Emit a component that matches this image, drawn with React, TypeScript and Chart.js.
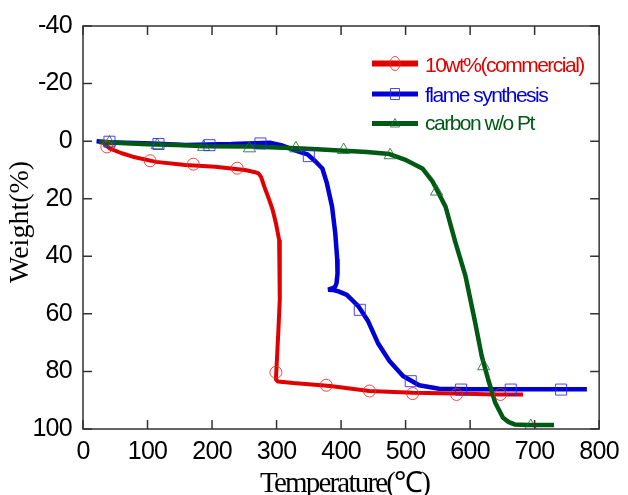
import React, { useEffect, useRef } from "react";
import { Chart, registerables } from "chart.js";

Chart.register(...registerables);

// ---- axis ticks ----
const xTickValues = [0, 100, 200, 300, 400, 500, 600, 700, 800];
const yTickValues = [-40, -20, 0, 20, 40, 60, 80, 100];

// ---- series meta ----
const seriesNames = ["10wt%(commercial)", "flame synthesis", "carbon w/o Pt"];
const seriesColors = ["#e00000", "#0000d6", "#005a14"];
const markerColors = ["rgba(235,40,40,0.85)", "rgba(40,40,235,0.85)", "rgba(30,110,50,0.85)"];
const markerStyles = ["circle", "rect", "triangle"];

const xTitle = "Temperature(℃)";
const yTitle = "Weight(%)";

// ---- curves (temperature °C, weight loss %) ----
const redTemp = [30, 41, 60, 77, 113, 159, 205, 251, 265, 272, 276, 281, 288, 294, 299, 304, 305, 305, 303, 301, 299, 302, 326, 383, 444, 511, 577, 638, 682];
const redWeight = [0.2, 2.5, 4.2, 5.4, 7.2, 8.3, 8.9, 10, 10.7, 11.2, 12.4, 15.8, 20, 23.9, 28.5, 34.3, 45, 55, 65, 74, 82.8, 83.5, 84, 85.1, 86.8, 87.4, 87.7, 88, 88];

const blueTemp = [21, 40, 107, 159, 230, 291, 307, 332, 348, 360, 371, 378, 386, 391, 394, 394.5, 393, 391, 388, 380, 388, 396, 409, 414, 427, 442, 457, 475, 496, 521, 552, 600, 700, 781];
const blueWeight = [0, 0.4, 0.8, 1.3, 1, 0.6, 1.4, 3.5, 4.6, 7, 9.5, 14.6, 22.7, 32, 41, 46, 49.3, 50.5, 51, 51.6, 51.7, 52.2, 53.4, 54.5, 57.4, 62.6, 70.1, 76.4, 81.6, 84.8, 86, 86.2, 86.2, 86.2];

const greenTemp = [25, 41, 100, 159, 187, 260, 330, 363, 404, 440, 475, 501, 526, 542, 562, 577, 593, 608, 618, 628, 639, 651, 660, 669, 690, 730];
const greenWeight = [0.3, 0.5, 1.1, 1.4, 1.8, 1.9, 2.5, 2.8, 3.3, 3.8, 4.5, 6.6, 9.5, 14.1, 22.8, 35, 47, 63.2, 74.7, 82.8, 90.9, 96.1, 97.6, 98.4, 98.6, 98.6];

// ---- markers ----
const redMarkTemp = [37, 104, 171, 239, 299, 377, 444, 511, 579, 647];
const redMarkWeight = [2, 6.8, 8, 9.4, 80.3, 84.8, 86.8, 87.7, 88, 88];
const blueMarkTemp = [41, 117, 196, 275, 350, 429, 508, 586, 663, 741];
const blueMarkWeight = [0.2, 1, 1.4, 0.8, 5.2, 58.6, 83.4, 86.3, 86.3, 86.3];
const greenMarkTemp = [41, 115, 187, 258, 330, 404, 476, 548, 621, 694];
const greenMarkWeight = [0.5, 1.4, 2, 2.5, 2.5, 3.1, 4.9, 17.5, 78.2, 99];

const zip = (xs: number[], ys: number[]) => xs.map((x, i) => ({ x, y: ys[i] }));

const curves = [zip(redTemp, redWeight), zip(blueTemp, blueWeight), zip(greenTemp, greenWeight)];
const marks = [zip(redMarkTemp, redMarkWeight), zip(blueMarkTemp, blueMarkWeight), zip(greenMarkTemp, greenMarkWeight)];
const lineWidths = [4, 4.5, 4.5];
const markerRadii = [6, 7.8, 7];

const SANS = '"Liberation Sans", Arial, sans-serif';
const SERIF = '"Liberation Serif", "Times New Roman", serif';

const decorPlugin = {
  id: "decor",
  beforeDraw(chart: any) {
    chart.ctx.letterSpacing = "-0.7px";
  },
  afterDraw(chart: any) {
    const ctx = chart.ctx as CanvasRenderingContext2D;
    const { left, right, top, bottom } = chart.chartArea;
    const xs = chart.scales.x;
    const ys = chart.scales.y;
    ctx.save();
    (ctx as any).letterSpacing = "0px";
    // frame
    ctx.strokeStyle = "#333";
    ctx.lineWidth = 1.5;
    ctx.strokeRect(left, top, right - left, bottom - top);
    // inward ticks
    const tl = 9;
    ctx.beginPath();
    xTickValues.forEach((v) => {
      const px = xs.getPixelForValue(v);
      ctx.moveTo(px, bottom);
      ctx.lineTo(px, bottom - tl);
      ctx.moveTo(px, top);
      ctx.lineTo(px, top + tl);
    });
    yTickValues.forEach((v) => {
      const py = ys.getPixelForValue(v);
      ctx.moveTo(left, py);
      ctx.lineTo(left + tl, py);
      ctx.moveTo(right, py);
      ctx.lineTo(right - tl, py);
    });
    ctx.stroke();

    // axis titles
    ctx.fillStyle = "#000";
    ctx.font = `29px ${SERIF}`;
    (ctx as any).letterSpacing = "-1.8px";
    ctx.textAlign = "left";
    ctx.textBaseline = "alphabetic";
    ctx.fillText(xTitle, 260, 492);

    ctx.save();
    (ctx as any).letterSpacing = "0px";
    ctx.font = `28px ${SERIF}`;
    ctx.translate(28, 283);
    ctx.rotate(-Math.PI / 2);
    ctx.fillText(yTitle, 0, 0);
    ctx.restore();

    // legend
    const rowsLine = [63.5, 94, 123.5];
    const rowsText = [71.5, 101.7, 130];
    const legendLineW = [6, 5, 5];
    for (let i = 0; i < 3; i++) {
      const y = rowsLine[i];
      ctx.strokeStyle = seriesColors[i];
      ctx.lineWidth = legendLineW[i];
      ctx.beginPath();
      ctx.moveTo(372, y);
      ctx.lineTo(418, y);
      ctx.stroke();
      ctx.strokeStyle = markerColors[i];
      ctx.lineWidth = 1;
      ctx.beginPath();
      if (i === 0) {
        ctx.ellipse(395, y, 5, 7, 0, 0, Math.PI * 2);
      } else if (i === 1) {
        ctx.rect(390.5, y - 5.5, 9, 11);
      } else {
        ctx.moveTo(395, y - 5);
        ctx.lineTo(399.5, y + 3.5);
        ctx.lineTo(390.5, y + 3.5);
        ctx.closePath();
      }
      ctx.stroke();
      ctx.fillStyle = seriesColors[i];
      ctx.font = `21px ${SANS}`;
      (ctx as any).letterSpacing = "-1.5px";
      ctx.fillText(seriesNames[i], 425, rowsText[i]);
    }
    ctx.restore();
  },
};

export default function App() {
  const canvasRef = useRef<HTMLCanvasElement | null>(null);

  useEffect(() => {
    const canvas = canvasRef.current;
    if (!canvas) return;
    const datasets: any[] = [];
    for (let i = 0; i < 3; i++) {
      datasets.push({
        label: seriesNames[i],
        data: curves[i],
        borderColor: seriesColors[i],
        backgroundColor: seriesColors[i],
        borderWidth: lineWidths[i],
        borderJoinStyle: "bevel",
        borderCapStyle: "butt",
        pointRadius: 0,
        tension: 0,
        fill: false,
        order: 10 - i * 2,
      });
    }
    for (let i = 0; i < 3; i++) {
      datasets.push({
        label: seriesNames[i] + " markers",
        data: marks[i],
        showLine: false,
        pointStyle: markerStyles[i],
        pointRadius: markerRadii[i],
        pointBorderWidth: 1,
        pointBorderColor: markerColors[i],
        pointBackgroundColor: "rgba(0,0,0,0)",
        borderColor: markerColors[i],
        backgroundColor: "rgba(0,0,0,0)",
        order: 1,
      });
    }
    const chart = new Chart(canvas, {
      type: "line",
      data: { datasets },
      options: {
        animation: false,
        responsive: false,
        devicePixelRatio: 1,
        layout: { padding: { top: 25, right: 23, left: 0, bottom: 0 } },
        plugins: {
          legend: { display: false },
          tooltip: { enabled: false },
          title: { display: false },
        },
        scales: {
          x: {
            type: "linear",
            min: 0,
            max: 800,
            afterBuildTicks: (scale: any) => {
              scale.ticks = xTickValues.map((v) => ({ value: v }));
            },
            afterFit: (scale: any) => {
              scale.height = 66;
            },
            grid: { display: false, drawTicks: false },
            border: { display: false },
            ticks: {
              color: "#000",
              padding: 8,
              maxRotation: 0,
              autoSkip: false,
              font: { family: SANS, size: 25 },
            },
          },
          y: {
            type: "linear",
            min: -40,
            max: 100,
            reverse: true,
            afterBuildTicks: (scale: any) => {
              scale.ticks = yTickValues.map((v) => ({ value: v }));
            },
            afterFit: (scale: any) => {
              scale.width = 83;
            },
            grid: { display: false, drawTicks: false },
            border: { display: false },
            ticks: {
              color: "#000",
              padding: 11,
              autoSkip: false,
              font: { family: SANS, size: 25 },
            },
          },
        },
      } as any,
      plugins: [decorPlugin],
    });
    return () => chart.destroy();
  }, []);

  return (
    <div style={{ position: "fixed", left: 0, top: 0, width: 628, height: 495, background: "#fff" }}>
      <canvas ref={canvasRef} width={628} height={495} style={{ width: 628, height: 495, display: "block" }} />
    </div>
  );
}
